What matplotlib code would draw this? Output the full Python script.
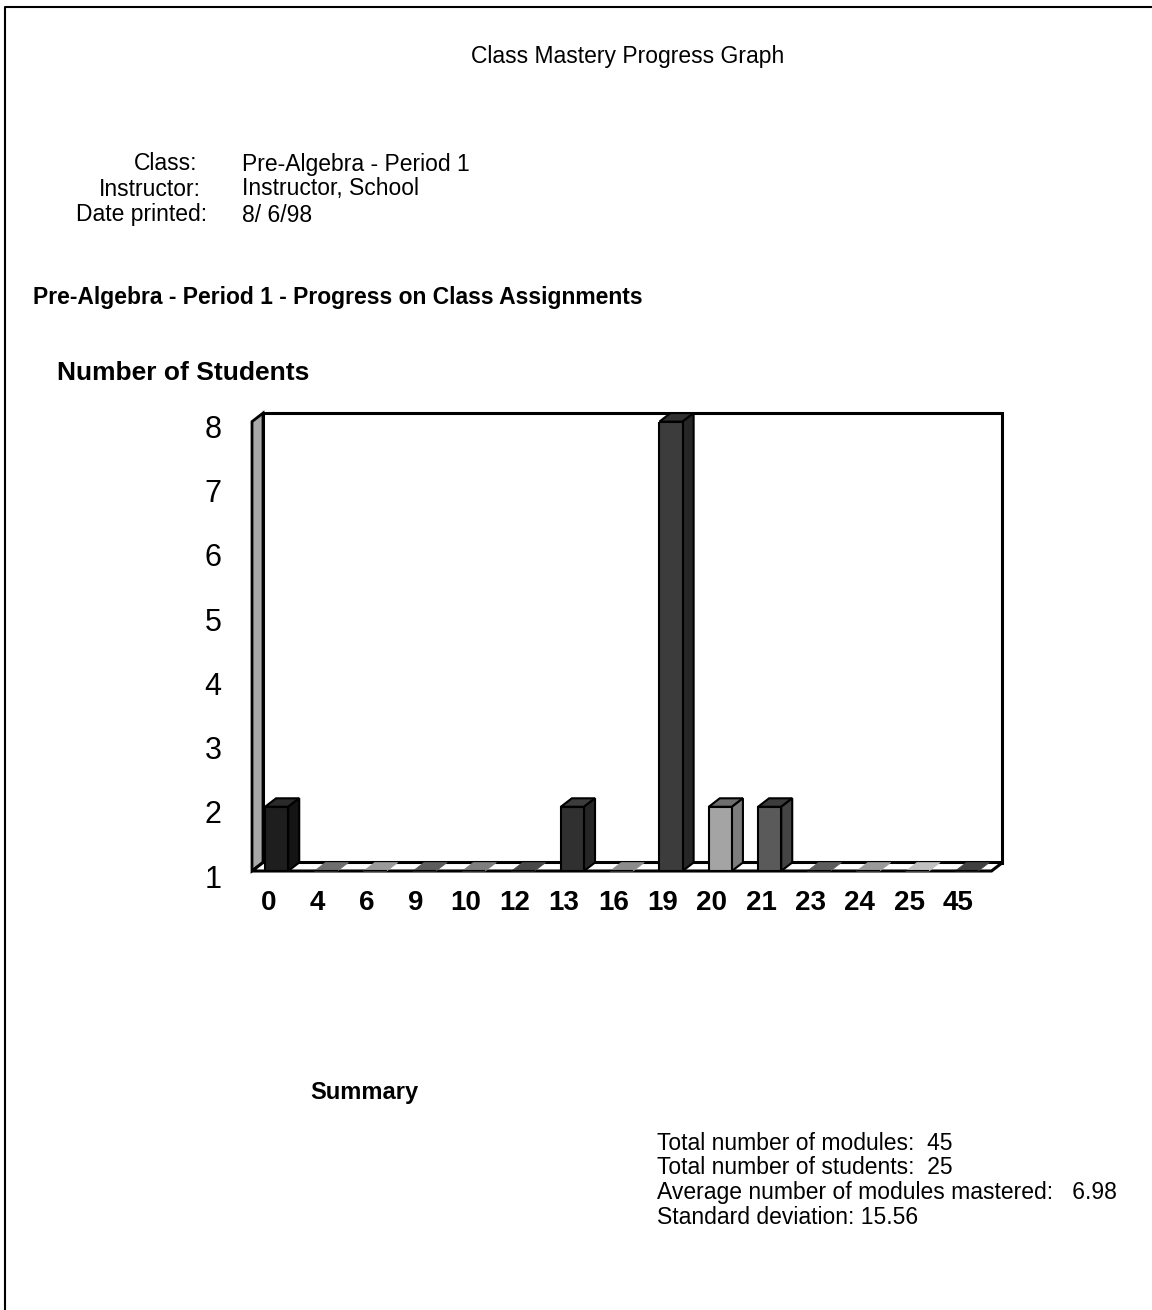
import matplotlib
matplotlib.use('Agg')
import matplotlib.pyplot as plt
import matplotlib.transforms as mtransforms
from matplotlib.patches import Polygon
from matplotlib.lines import Line2D

# data
modules = ['0', '4', '6', '9', '10', '12', '13', '16', '19', '20', '21', '23', '24', '25', '45']
students = [2, 1, 1, 1, 1, 1, 2, 1, 8, 2, 2, 1, 1, 1, 1]
y_ticks = [1, 2, 3, 4, 5, 6, 7, 8]

header_keys = ['Class:', 'Instructor:', 'Date printed:']
header_vals = ['Pre-Algebra - Period 1', 'Instructor, School', '8/ 6/98']
summary_lines = ['Total number of modules:  45',
                 'Total number of students:  25',
                 'Average number of modules mastered:   6.98',
                 'Standard deviation: 15.56']

# bar colours (front, side, top)
front_c = ['#1e1e1e', '#5a5a5a', '#8a8a8a', '#4a4a4a', '#6a6a6a', '#3a3a3a', '#303030',
           '#7a7a7a', '#3c3c3c', '#a4a4a4', '#5a5a5a', '#4a4a4a', '#8a8a8a', '#b0b0b0', '#2e2e2e']
side_c = ['#141414', '#444444', '#666666', '#333333', '#505050', '#2a2a2a', '#262626',
          '#5a5a5a', '#262626', '#7c7c7c', '#444444', '#333333', '#666666', '#888888', '#222222']
top_c = ['#2a2a2a', '#6e6e6e', '#9a9a9a', '#5c5c5c', '#7e7e7e', '#484848', '#3c3c3c',
         '#8c8c8c', '#303030', '#6e6e6e', '#3c3c3c', '#5c5c5c', '#9a9a9a', '#c0c0c0', '#404040']

plt.rcParams['font.family'] = ['Liberation Sans', 'DejaVu Sans']

W, H = 1152, 1310
fig = plt.figure(figsize=(W / 100, H / 100), dpi=100)


def fx(px):
    return px / W


def fy(py):
    return 1 - py / H


# page frame
fig.add_artist(Line2D([fx(5), fx(5), fx(W)], [fy(H), fy(7), fy(7)],
                      color='black', lw=1.5, transform=fig.transFigure))

fs = 16.5
fig.text(fx(628), fy(57), 'Class Mastery Progress Graph', ha='center', va='center', fontsize=fs)
for k, v, xr, yy in zip(header_keys, header_vals, [197, 201, 207], [164, 189, 215]):
    fig.text(fx(xr), fy(yy), k, ha='right', va='center', fontsize=fs)
    fig.text(fx(242), fy(yy), v, ha='left', va='center', fontsize=fs)

fig.text(fx(33), fy(297), 'Pre-Algebra - Period 1 - Progress on Class Assignments',
         ha='left', va='center', fontsize=fs, fontweight='bold')
fig.text(fx(57), fy(373), 'Number of Students', ha='left', va='center', fontsize=19, fontweight='bold')
fig.text(fx(310), fy(1092), 'Summary', ha='left', va='center', fontsize=17, fontweight='bold')
for i, line in enumerate(summary_lines):
    fig.text(fx(657), fy(1143 + 25 * i), line, ha='left', va='center', fontsize=fs)

# chart geometry
step = 49.3   # px per category
unit = 64.2   # px per student
x0, x1 = -0.5, 14.5
left_px, base_px = 252, 871
ax = fig.add_axes([fx(left_px), fy(base_px), (x1 - x0) * step / W, 7 * unit / H])
ax.set_xlim(x0, x1)
ax.set_ylim(1, 8)
dx = 11 / step
dy = 8.5 / unit
for s in ax.spines.values():
    s.set_visible(False)

# back wall, left wall, floor
ax.add_patch(Polygon([(x0 + dx, 1 + dy), (x1 + dx, 1 + dy), (x1 + dx, 8 + dy), (x0 + dx, 8 + dy)],
                     closed=True, fc='white', ec='black', lw=2.2, clip_on=False, zorder=1))
ax.add_patch(Polygon([(x0, 1), (x0, 8), (x0 + dx, 8 + dy), (x0 + dx, 1 + dy)],
                     closed=True, fc='#a8a8a8', ec='black', lw=2, clip_on=False, zorder=2))
ax.add_patch(Polygon([(x0, 1), (x1, 1), (x1 + dx, 1 + dy), (x0 + dx, 1 + dy)],
                     closed=True, fc='white', ec='black', lw=2.2, clip_on=False, zorder=2))

xs = list(range(len(modules)))
bw = 0.47
heights = [v - 1 for v in students]
ax.bar(xs, heights, bottom=1, width=bw, color=front_c, edgecolor='black', lw=1.5, zorder=5)
for x, v, sc, tc, h in zip(xs, students, side_c, top_c, heights):
    l, r = x - bw / 2, x + bw / 2
    ax.add_patch(Polygon([(l, v), (r, v), (r + dx, v + dy), (l + dx, v + dy)],
                         closed=True, fc=tc, ec='black' if h > 0 else tc,
                         lw=1.5 if h > 0 else 0.5, clip_on=False, zorder=4))
    if h > 0:
        ax.add_patch(Polygon([(r, 1), (r, v), (r + dx, v + dy), (r + dx, 1 + dy)],
                             closed=True, fc=sc, ec='black', lw=1.5, clip_on=False, zorder=4))

ax.set_yticks(y_ticks)
ax.set_yticklabels([str(t) for t in y_ticks], fontsize=22)
ax.set_xticks([x - 0.17 for x in xs])
ax.set_xticklabels(modules, fontsize=20, fontweight='bold')
ax.tick_params(axis='y', length=0, pad=22)
ax.tick_params(axis='x', length=0, pad=14)
shift = mtransforms.ScaledTranslation(0, -5 / 100, fig.dpi_scale_trans)
for lab in ax.get_yticklabels():
    lab.set_transform(lab.get_transform() + shift)

fig.savefig('out.png', dpi=100)
